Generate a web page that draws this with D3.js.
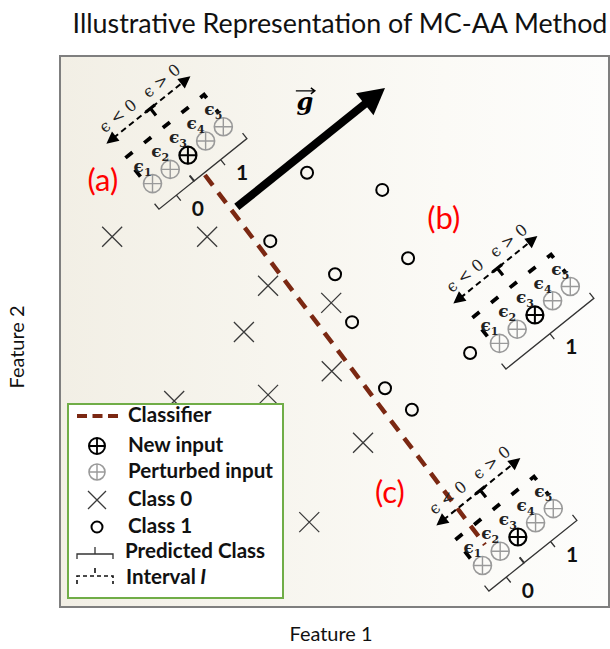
<!DOCTYPE html>
<html>
<head>
<meta charset="utf-8">
<script src="https://cdn.jsdelivr.net/npm/d3@7"></script>
<style>
  body { margin: 0; background: #fff; }
  svg { display: block; }
</style>
</head>
<body>
<div id="chart"></div>
<script>
// Data (feature space, 0..10 on both axes)
const class0 = [[0.95, 6.72], [2.68, 6.72], [3.79, 5.83], [4.94, 5.52], [3.35, 4.99],
                [4.95, 4.28], [3.79, 3.85], [2.08, 3.74], [5.52, 2.98], [4.54, 1.54]];
const class1 = [[4.50, 7.88], [5.87, 7.57], [3.83, 6.64], [6.34, 6.33], [5.01, 6.04],
                [5.32, 5.17], [7.47, 4.61], [5.92, 3.97], [6.41, 3.58]];
const classifier = [[2.64, 7.84], [7.74, 1.13]];
const gradient = [[3.22, 7.26], [5.92, 9.42]];
const gradLabel = [4.46, 9.15];
const epsilons = [-2, -1, 0, 1, 2];
const glyphNames = ["(a)", "(b)", "(c)"];
const glyphCenters = [[2.33, 8.20], [8.65, 5.30], [8.34, 1.27]];
const glyphLabels = [[0.78, 7.75], [6.99, 7.06], [6.01, 2.09]];
const predictions = [[0, 0, 1, 1, 1], [1, 1, 1, 1, 1], [0, 0, 1, 1, 1]];
const legendItems = ["Classifier", "New input", "Perturbed input", "Class 0", "Class 1", "Predicted Class", "Interval"];
const legendRows = [416, 446, 472, 500, 527, 552, 578];

const W = 610, H = 649;
const sans = "Lato, 'Open Sans', sans-serif";
const brown = "#7b2812";

const svg = d3.select("#chart").append("svg")
    .attr("width", W)
    .attr("height", H);

const x = d3.scaleLinear().domain([0, 10]).range([60, 609]);
const y = d3.scaleLinear().domain([0, 10]).range([607, 56]);

// shrink / grow a text so that it has the wanted width
function fit(sel, w) {
    const cur = sel.node().getComputedTextLength();
    const fs = parseFloat(sel.attr("font-size"));
    if (cur > 0) sel.attr("font-size", fs * w / cur);
    return sel;
}

// Background of the plot
const defs = svg.append("defs");
const bg = defs.append("linearGradient").attr("id", "bg");
bg.append("stop").attr("offset", "0%").attr("stop-color", "#f2efe5");
bg.append("stop").attr("offset", "70%").attr("stop-color", "#fbfaf6");
bg.append("stop").attr("offset", "100%").attr("stop-color", "#fdfdfc");

svg.append("rect")
    .attr("x", x(0)).attr("y", y(10))
    .attr("width", x(10) - x(0)).attr("height", y(0) - y(10))
    .attr("fill", "url(#bg)")
    .attr("stroke", "#7f7f7f")
    .attr("stroke-width", 2);

// Title and axis titles
const title = svg.append("text")
    .attr("x", 340).attr("y", 33)
    .attr("text-anchor", "middle")
    .attr("font-family", sans).attr("font-size", 23)
    .attr("fill", "#111")
    .text("Illustrative Representation of MC-AA Method");
fit(title, 535);

const f1 = svg.append("text")
    .attr("x", 331).attr("y", 641)
    .attr("text-anchor", "middle")
    .attr("font-family", sans).attr("font-size", 20)
    .attr("fill", "#111")
    .text("Feature 1");
fit(f1, 83);

svg.append("text")
    .attr("transform", "translate(24,347) rotate(-90)")
    .attr("text-anchor", "middle")
    .attr("font-family", sans).attr("font-size", f1.attr("font-size"))
    .attr("fill", "#111")
    .text("Feature 2");

// Classifier
svg.append("path")
    .datum(classifier)
    .attr("d", d3.line().x(d => x(d[0])).y(d => y(d[1])))
    .attr("fill", "none")
    .attr("stroke", brown)
    .attr("stroke-width", 4.5)
    .attr("stroke-dasharray", "13,9");

// Class 0 crosses
svg.selectAll("path.c0")
    .data(class0)
    .join("path")
    .attr("class", "c0")
    .attr("transform", d => `translate(${x(d[0])},${y(d[1])})`)
    .attr("d", "M-10,-10L10,10M-10,10L10,-10")
    .attr("stroke", "#3a3a3a")
    .attr("stroke-width", 1.3);

// Class 1 circles
svg.selectAll("circle.c1")
    .data(class1)
    .join("circle")
    .attr("class", "c1")
    .attr("cx", d => x(d[0]))
    .attr("cy", d => y(d[1]))
    .attr("r", 6)
    .attr("fill", "none")
    .attr("stroke", "#000")
    .attr("stroke-width", 2);

// Gradient arrow
const gx0 = x(gradient[0][0]), gy0 = y(gradient[0][1]);
const gx1 = x(gradient[1][0]), gy1 = y(gradient[1][1]);
const glen = Math.hypot(gx1 - gx0, gy1 - gy0);
const ux = (gx1 - gx0) / glen, uy = (gy1 - gy0) / glen;
const headL = 26, headW = 14;
svg.append("line")
    .attr("x1", gx0).attr("y1", gy0)
    .attr("x2", gx1 - ux * (headL - 2)).attr("y2", gy1 - uy * (headL - 2))
    .attr("stroke", "#000")
    .attr("stroke-width", 8);
svg.append("path")
    .attr("d", `M${gx1},${gy1}` +
        `L${gx1 - ux * headL - uy * headW},${gy1 - uy * headL + ux * headW}` +
        `L${gx1 - ux * headL + uy * headW},${gy1 - uy * headL - ux * headW}Z`)
    .attr("fill", "#000");

// g label with vector arrow
const glx = x(gradLabel[0]), gly = y(gradLabel[1]);
svg.append("text")
    .attr("x", glx).attr("y", gly + 7)
    .attr("text-anchor", "middle")
    .attr("font-family", "'DejaVu Serif', serif")
    .attr("font-style", "italic").attr("font-weight", "bold")
    .attr("font-size", 24)
    .text("g");
svg.append("path")
    .attr("d", `M${glx - 9},${gly - 12}L${glx + 10},${gly - 12}M${glx + 6},${gly - 15}L${glx + 10},${gly - 12}L${glx + 6},${gly - 9}`)
    .attr("fill", "none")
    .attr("stroke", "#000")
    .attr("stroke-width", 1.4);

// Perturbation glyphs, laid out along the gradient direction
const angle = Math.atan2(gy1 - gy0, gx1 - gx0) * 180 / Math.PI;
const step = d3.scaleLinear().domain([-2, 2]).range([-45.4, 45.4]);
const uMin = step(d3.min(epsilons)), uMax = step(d3.max(epsilons));
const epsFont = "'DejaVu Serif', serif";

glyphNames.forEach((name, i) => {
    const [cx, cy] = glyphCenters[i];
    const g = svg.append("g")
        .attr("transform", `translate(${x(cx)},${y(cy)}) rotate(${angle})`);

    // epsilon axis with two arrow heads
    g.append("line")
        .attr("x1", uMin - 2).attr("x2", uMax - 2)
        .attr("y1", -60).attr("y2", -60)
        .attr("stroke", "#000").attr("stroke-width", 2)
        .attr("stroke-dasharray", "6,4");
    g.append("path")
        .attr("d", `M${uMin - 11},-60L${uMin + 1},-66L${uMin + 1},-54Z` +
                   `M${uMax + 6},-60L${uMax - 6},-66L${uMax - 6},-54Z`)
        .attr("fill", "#000");
    g.append("path")
        .attr("d", "M0,-61L0,-51M-6,-60L6,-60")
        .attr("stroke", "#000").attr("stroke-width", 3.2);

    g.append("text")
        .attr("x", -30).attr("y", -69)
        .attr("text-anchor", "middle")
        .attr("font-family", epsFont).attr("font-size", 16)
        .attr("fill", "#222")
        .text("ϵ < 0");
    g.append("text")
        .attr("x", 26).attr("y", -69)
        .attr("text-anchor", "middle")
        .attr("font-family", epsFont).attr("font-size", 16)
        .attr("fill", "#222")
        .text("ϵ > 0");

    // interval I
    g.append("path")
        .attr("d", `M${uMin - 5},-13L${uMin - 5},-37L${uMax + 5},-37L${uMax + 5},-13`)
        .attr("fill", "none")
        .attr("stroke", "#000").attr("stroke-width", 3.8)
        .attr("stroke-dasharray", "9,15");

    // inputs
    epsilons.forEach((e, j) => {
        const m = g.append("g")
            .attr("transform", `translate(${step(e)},0) rotate(${-angle})`);
        const col = e === 0 ? "#000" : "#9a9a9a";
        m.append("circle")
            .attr("r", e === 0 ? 8.5 : 9)
            .attr("fill", "none")
            .attr("stroke", col)
            .attr("stroke-width", e === 0 ? 2.2 : 1.6);
        m.append("path")
            .attr("d", "M-9,0H9M0,-9V9")
            .attr("stroke", col)
            .attr("stroke-width", e === 0 ? 2 : 1.4);
        const t = m.append("text")
            .attr("x", -19).attr("y", -12)
            .attr("font-family", epsFont).attr("font-size", 17)
            .attr("font-weight", "bold")
            .attr("fill", "#222");
        t.append("tspan").text("ϵ");
        t.append("tspan").attr("dy", 4).attr("font-size", 11).text(j + 1);
    });

    // predicted-class braces
    const groups = [];
    predictions[i].forEach((p, j) => {
        if (j === 0 || p !== predictions[i][j - 1]) groups.push({ cls: p, from: j, to: j });
        else groups[groups.length - 1].to = j;
    });
    groups.forEach(gr => {
        const u1 = step(epsilons[gr.from]) - 11;
        const u2 = step(epsilons[gr.to]) + 11;
        const um = (u1 + u2) / 2;
        g.append("path")
            .attr("d", `M${u1},17L${u1},24L${u2},24L${u2},17M${um},24L${um},31`)
            .attr("fill", "none")
            .attr("stroke", "#333").attr("stroke-width", 1.3);
        g.append("text")
            .attr("transform", `translate(${um},31) rotate(${-angle})`)
            .attr("x", 17).attr("y", 15)
            .attr("text-anchor", "middle")
            .attr("font-family", sans).attr("font-weight", "bold")
            .attr("font-size", 21)
            .attr("fill", "#111")
            .text(gr.cls);
    });

    // (a), (b), (c)
    svg.append("text")
        .attr("x", x(glyphLabels[i][0]))
        .attr("y", y(glyphLabels[i][1]) + 11)
        .attr("text-anchor", "middle")
        .attr("font-family", sans).attr("font-size", 31)
        .attr("fill", "#ff0000")
        .text(name);
});

// Legend
const lg = svg.append("g");
lg.append("rect")
    .attr("x", 68).attr("y", 404)
    .attr("width", 215).attr("height", 194)
    .attr("fill", "#fff")
    .attr("stroke", "#70ad47")
    .attr("stroke-width", 2);

const sx = 97;

legendItems.forEach((label, k) => {
    const cy = legendRows[k];
    if (k === 0) {
        lg.append("line")
            .attr("x1", 77).attr("x2", 119).attr("y1", cy).attr("y2", cy)
            .attr("stroke", brown).attr("stroke-width", 4)
            .attr("stroke-dasharray", "10,5.5");
    } else if (k === 1 || k === 2) {
        const col = k === 1 ? "#000" : "#9a9a9a";
        lg.append("circle")
            .attr("cx", sx).attr("cy", cy).attr("r", 8)
            .attr("fill", "none").attr("stroke", col).attr("stroke-width", k === 1 ? 2 : 1.6);
        lg.append("path")
            .attr("d", `M${sx - 8},${cy}H${sx + 8}M${sx},${cy - 8}V${cy + 8}`)
            .attr("stroke", col).attr("stroke-width", k === 1 ? 1.8 : 1.4);
    } else if (k === 3) {
        lg.append("path")
            .attr("d", `M${sx - 9},${cy - 9}L${sx + 9},${cy + 9}M${sx - 9},${cy + 9}L${sx + 9},${cy - 9}`)
            .attr("stroke", "#3a3a3a").attr("stroke-width", 1.3);
    } else if (k === 4) {
        lg.append("circle")
            .attr("cx", sx).attr("cy", cy).attr("r", 5.5)
            .attr("fill", "none").attr("stroke", "#000").attr("stroke-width", 2);
    } else if (k === 5) {
        lg.append("path")
            .attr("d", `M77,${cy + 7}L77,${cy + 2}L113,${cy + 2}L113,${cy + 7}M95,${cy + 2}L95,${cy - 5}`)
            .attr("fill", "none").attr("stroke", "#333").attr("stroke-width", 1.3);
    } else {
        lg.append("path")
            .attr("d", `M77,${cy + 6}L77,${cy - 2}L113,${cy - 2}L113,${cy + 6}`)
            .attr("fill", "none").attr("stroke", "#111").attr("stroke-width", 1.6)
            .attr("stroke-dasharray", "4,3");
        lg.append("line")
            .attr("x1", 95).attr("x2", 95).attr("y1", cy - 10).attr("y2", cy - 5)
            .attr("stroke", "#111").attr("stroke-width", 1.6);
    }
    const t = lg.append("text")
        .attr("class", "lgtext")
        .attr("x", k === 5 ? 125 : k === 6 ? 126 : 128)
        .attr("y", cy + 6)
        .attr("font-family", sans).attr("font-weight", "bold")
        .attr("font-size", 17)
        .attr("fill", "#111")
        .text(label);
    if (k === 6) t.append("tspan").attr("font-style", "italic").text(" I");
});

// same size for every legend text, based on the widest one
const widest = lg.selectAll("text.lgtext").nodes()[2];
const fs = 17 * 145 / widest.getComputedTextLength();
lg.selectAll("text.lgtext").attr("font-size", fs);
</script>
</body>
</html>
